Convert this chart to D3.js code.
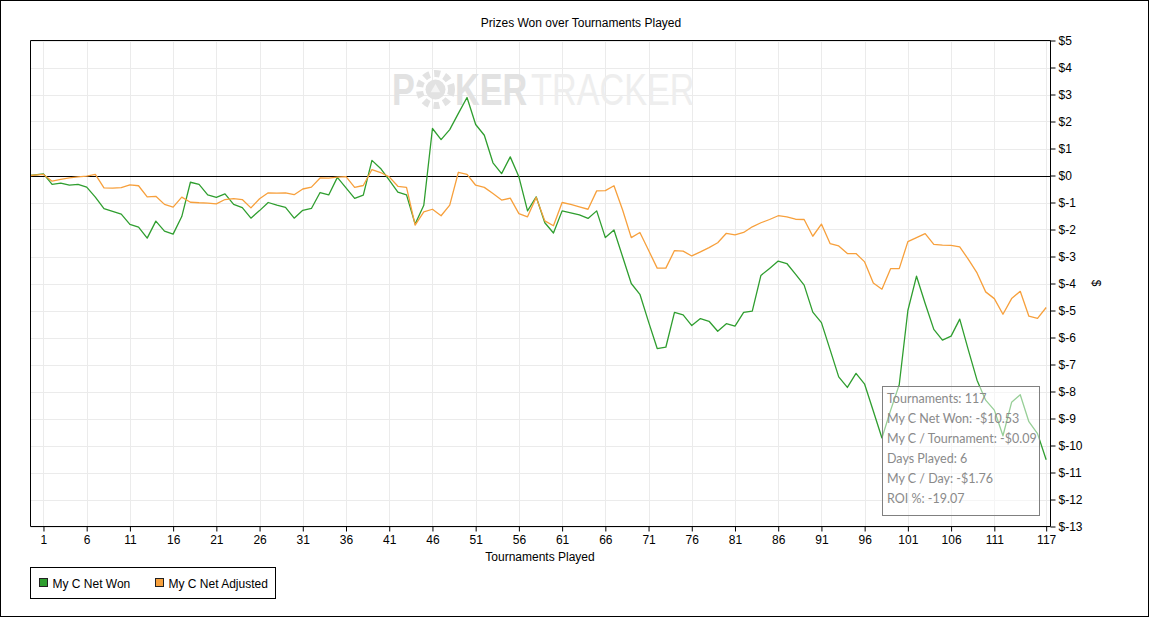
<!DOCTYPE html>
<html>
<head>
<meta charset="utf-8">
<script src="https://cdn.jsdelivr.net/npm/d3@7/dist/d3.min.js"></script>
<style>
    html, body { margin: 0; padding: 0; background: #ffffff; }
    svg { display: block; font-family: "Liberation Sans", Arial, sans-serif; }
</style>
</head>
<body>
<div class="chartDiv"></div>
<script>
"use strict";

//
/* Data: */
//

// Series names and colours (legend order)
var seriesNames = ["My C Net Won", "My C Net Adjusted"];
var seriesColors = ["#2f9e2f", "#f7a03c"];

// My C Net Won, tournaments 1..117
var netWon = [
     0.06, -0.33, -0.28, -0.36, -0.33, -0.43, -0.80, -1.23, -1.33, -1.43,
    -1.81, -1.91, -2.32, -1.69, -2.06, -2.17, -1.52, -0.25, -0.33, -0.72,
    -0.81, -0.68, -1.07, -1.19, -1.58, -1.30, -1.00, -1.10, -1.18, -1.58,
    -1.29, -1.22, -0.63, -0.72, -0.07, -0.46, -0.85, -0.73,  0.56,  0.26,
    -0.17, -0.62, -0.72, -1.80, -1.10,  1.74,  1.33,  1.70,  2.30,  2.89,
     1.89,  1.49,  0.47,  0.07,  0.69, -0.05, -1.31, -0.79, -1.75, -2.13,
    -1.31, -1.38, -1.46, -1.59, -1.31, -2.30, -2.02, -3.01, -4.00, -4.40,
    -5.42, -6.41, -6.36, -5.07, -5.16, -5.56, -5.30, -5.40, -5.77, -5.49,
    -5.58, -5.07, -5.02, -3.70, -3.44, -3.17, -3.26, -3.65, -4.06, -5.06,
    -5.45, -6.45, -7.46, -7.85, -7.33, -7.73, -8.72, -9.72, -8.70, -7.75,
    -5.00, -3.73, -4.74, -5.70, -6.10, -5.95, -5.32, -6.47, -7.58, -8.32,
    -8.69, -9.64, -8.40, -8.12, -9.12, -9.56, -10.53
];

// My C Net Adjusted, tournaments 1..117
var netAdjusted = [
     0.04, -0.21, -0.14, -0.09, -0.05, -0.02,  0.04, -0.46, -0.47, -0.45,
    -0.35, -0.38, -0.79, -0.77, -1.07, -1.17, -0.80, -0.99, -1.01, -1.02,
    -1.05, -0.89, -0.86, -0.89, -1.20, -0.86, -0.64, -0.65, -0.64, -0.71,
    -0.50, -0.43, -0.09, -0.10, -0.06, -0.04, -0.44, -0.37,  0.22,  0.11,
    -0.05, -0.40, -0.44, -1.84, -1.35, -1.25, -1.49, -1.10,  0.12,  0.04,
    -0.36, -0.44, -0.67, -0.91, -0.84, -1.41, -1.53, -0.81, -1.68, -1.86,
    -1.00, -1.07, -1.16, -1.25, -0.57, -0.56, -0.38, -1.28, -2.30, -2.11,
    -2.77, -3.43, -3.43, -2.78, -2.80, -2.98, -2.83, -2.67, -2.49, -2.14,
    -2.20, -2.11, -1.90, -1.75, -1.63, -1.49, -1.53, -1.62, -1.63, -2.25,
    -1.80, -2.52, -2.61, -2.89, -2.89, -3.20, -3.98, -4.21, -3.45, -3.45,
    -2.45, -2.30, -2.15, -2.55, -2.58, -2.59, -2.64, -3.11, -3.61, -4.31,
    -4.56, -5.14, -4.56, -4.29, -5.21, -5.29, -4.89
];

// Axis ticks
var xTickValues = [1, 6, 11, 16, 21, 26, 31, 36, 41, 46, 51, 56, 61, 66, 71, 76, 81, 86, 91, 96, 101, 106, 111, 117];
var yTickValues = [5, 4, 3, 2, 1, 0, -1, -2, -3, -4, -5, -6, -7, -8, -9, -10, -11, -12, -13];

// Summary box
var summaryLines = [
    "Tournaments: 117",
    "My C Net Won: -$10.53",
    "My C / Tournament: -$0.09",
    "Days Played: 6",
    "My C / Day: -$1.76",
    "ROI %: -19.07"
];

var chartTitle = "Prizes Won over Tournaments Played";
var xAxisTitle = "Tournaments Played";
var yAxisTitle = "$";


//
/* Layout: */
//

var width = 1149;
var height = 617;

var plot = { left: 30.5, top: 40.5, right: 1050.5, bottom: 526.5 };

var xScale = d3.scaleLinear().domain([-0.5, 117.5]).range([plot.left, plot.right]);
var yScale = d3.scaleLinear().domain([-13, 5]).range([plot.bottom, plot.top]);

var toPoints = function(values)
{
    // series start from zero at the left edge of the plot
    var points = [{ x: xScale.domain()[0], v: 0 }];
    for (var i = 0; i < values.length; i++)
        points.push({ x: i + 1, v: values[i] });
    return points;
}

var seriesData = [toPoints(netWon), toPoints(netAdjusted)];


//
/* Drawing: */
//

var svg = d3.select(".chartDiv").append("svg")
            .attr("width", width)
            .attr("height", height);

// outer frame
svg.append("rect")
    .attr("x", 0.5).attr("y", 0.5)
    .attr("width", width - 1).attr("height", height - 1)
    .attr("fill", "#ffffff")
    .attr("stroke", "#000000");

// title
svg.append("text")
    .attr("x", 581).attr("y", 27)
    .attr("text-anchor", "middle")
    .attr("font-size", "12px")
    .attr("fill", "#000000")
    .text(chartTitle);

// grid
var grid = svg.append("g").attr("class", "grid");

grid.selectAll(".vgrid")
    .data(xTickValues).enter()
    .append("line")
    .attr("x1", function(d) { return Math.round(xScale(d)) + 0.5; })
    .attr("x2", function(d) { return Math.round(xScale(d)) + 0.5; })
    .attr("y1", plot.top).attr("y2", plot.bottom)
    .attr("stroke", "#ebebeb");

grid.selectAll(".hgrid")
    .data(yTickValues).enter()
    .append("line")
    .attr("x1", plot.left).attr("x2", plot.right)
    .attr("y1", function(d) { return Math.round(yScale(d)) + 0.5; })
    .attr("y2", function(d) { return Math.round(yScale(d)) + 0.5; })
    .attr("stroke", "#ebebeb");

// watermark: one condensed text, chip drawn in place of the "O"
var mark = svg.append("g").attr("class", "watermark");

var markText = mark.append("text")
    .attr("transform", "translate(392,105) scale(0.76,1)")
    .attr("font-size", "45px");

markText.append("tspan")
    .attr("x", 0)
    .attr("font-weight", "bold")
    .attr("fill", "#e2e2e2")
    .text("P");

markText.append("tspan")
    .attr("x", 83)
    .attr("font-weight", "bold")
    .attr("fill", "#e2e2e2")
    .text("KER");

markText.append("tspan")
    .attr("x", 183)
    .attr("fill", "#eeeeee")
    .text("TRACKER");

mark.append("circle")
    .attr("cx", 435.5).attr("cy", 89.5).attr("r", 16)
    .attr("fill", "none")
    .attr("stroke", "#e2e2e2")
    .attr("stroke-width", 7)
    .attr("stroke-dasharray", "6 4.5");

mark.append("circle")
    .attr("cx", 435.5).attr("cy", 89.5).attr("r", 10)
    .attr("fill", "#e2e2e2");

mark.append("path")
    .attr("transform", "translate(435.5,89.5)")
    .attr("d", d3.symbol().type(d3.symbolTriangle).size(40))
    .attr("fill", "#f4f4f4");

// zero line
svg.append("line")
    .attr("x1", plot.left).attr("x2", plot.right)
    .attr("y1", Math.round(yScale(0)) + 0.5)
    .attr("y2", Math.round(yScale(0)) + 0.5)
    .attr("stroke", "#000000");

// series lines
var lineGen = d3.line()
                .x(function(d) { return xScale(d.x); })
                .y(function(d) { return yScale(d.v); });

svg.selectAll(".series")
    .data(seriesData).enter()
    .append("path")
    .attr("class", "series")
    .attr("d", lineGen)
    .attr("fill", "none")
    .attr("stroke", function(d, i) { return seriesColors[i]; })
    .attr("stroke-width", 1.3)
    .attr("stroke-linejoin", "round");

// plot frame (left, top, bottom)
svg.append("path")
    .attr("d", "M" + plot.right + "," + plot.top + "H" + plot.left + "V" + plot.bottom + "H" + plot.right)
    .attr("fill", "none")
    .attr("stroke", "#000000");

// x axis
var xAxis = d3.axisBottom(xScale)
                .tickValues(xTickValues)
                .tickSize(5)
                .tickPadding(4)
                .tickSizeOuter(0);

var gx = svg.append("g")
            .attr("transform", "translate(0," + plot.bottom + ")")
            .call(xAxis);
gx.select(".domain").remove();
gx.selectAll("text").attr("font-size", "12px").attr("font-family", "Liberation Sans, Arial, sans-serif").attr("fill", "#000");

svg.append("text")
    .attr("x", 540).attr("y", 561)
    .attr("text-anchor", "middle")
    .attr("font-size", "12px")
    .text(xAxisTitle);

// y axis (right side)
var yAxis = d3.axisRight(yScale)
                .tickValues(yTickValues)
                .tickSize(5)
                .tickPadding(3)
                .tickSizeOuter(0)
                .tickFormat(function(d) { return "$" + d; });

var gy = svg.append("g")
            .attr("transform", "translate(" + plot.right + ",0)")
            .call(yAxis);
gy.select(".domain")
    .attr("d", "M0," + plot.top + "V" + plot.bottom);
gy.selectAll("text").attr("font-size", "12px").attr("font-family", "Liberation Sans, Arial, sans-serif").attr("fill", "#000");

svg.append("text")
    .attr("transform", "translate(1092,283) rotate(90)")
    .attr("text-anchor", "middle")
    .attr("font-size", "12px")
    .text(yAxisTitle);

// summary box
var box = svg.append("g").attr("class", "summary");

box.append("rect")
    .attr("x", 882.5).attr("y", 386.5)
    .attr("width", 157).attr("height", 129)
    .attr("fill", "#ffffff")
    .attr("fill-opacity", 0.5)
    .attr("stroke", "#808080");

box.selectAll(".summaryText")
    .data(summaryLines).enter()
    .append("text")
    .attr("x", 887)
    .attr("y", function(d, i) { return 403 + i * 19.9; })
    .attr("font-family", "'Segoe UI', Lato, 'Noto Sans', sans-serif")
    .attr("font-size", "12.5px")
    .attr("fill", "#8a8a8a")
    .text(function(d) { return d; });

// legend
var legend = svg.append("g").attr("class", "legend");

legend.append("rect")
    .attr("x", 30.5).attr("y", 567.5)
    .attr("width", 245).attr("height", 31)
    .attr("fill", "#ffffff")
    .attr("stroke", "#000000");

var legendX = [39.5, 155.5];

var items = legend.selectAll(".legendItem")
                .data(seriesNames).enter()
                .append("g")
                .attr("transform", function(d, i) { return "translate(" + legendX[i] + ",578.5)"; });

items.append("rect")
    .attr("width", 8).attr("height", 8)
    .attr("fill", function(d, i) { return seriesColors[i]; })
    .attr("stroke", "#222222");

items.append("text")
    .attr("x", 13).attr("y", 9)
    .attr("font-size", "12px")
    .text(function(d) { return d; });
</script>
</body>
</html>
